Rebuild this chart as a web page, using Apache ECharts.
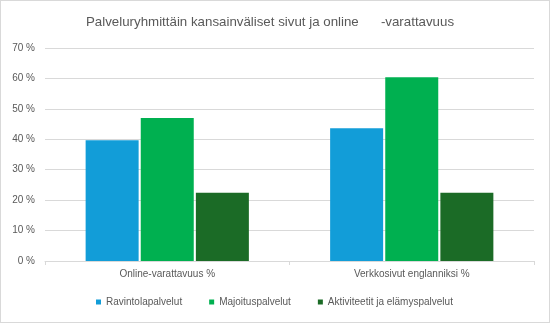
<!DOCTYPE html>
<html>
<head>
<meta charset="utf-8">
<script src="https://cdn.jsdelivr.net/npm/echarts@6/dist/echarts.min.js"></script>
<style>
  html, body { margin: 0; padding: 0; background: #fff; }
  #chart { width: 548px; height: 321px; border: 1px solid #d9d9d9; }
</style>
</head>
<body>
<div id="chart"></div>
<script>
var categories = ["Online-varattavuus %", "Verkkosivut englanniksi %"];
var seriesNames = ["Ravintolapalvelut", "Majoituspalvelut", "Aktiviteetit ja elämyspalvelut"];
var ravintola = [39.7, 43.6];
var majoitus = [47, 60.4];
var aktiviteetit = [22.4, 22.4];
var yTicks = [0, 10, 20, 30, 40, 50, 60, 70];

var colors = ['#129dd8', '#00b050', '#1b6b26'];
var textColor = '#595959';
var font = 'Liberation Sans, Arial, sans-serif';

var myChart = echarts.init(document.getElementById('chart'));
var option = {
  animation: false,
  title: {
    text: 'Palveluryhmittäin kansainväliset sivut ja online      -varattavuus',
    left: 80,
    top: 10,
    textStyle: { color: textColor, fontSize: 13.3, fontWeight: 'normal', fontFamily: font }
  },
  legend: {
    data: seriesNames,
    left: 90,
    top: 291,
    icon: 'rect',
    itemWidth: 5,
    itemHeight: 5,
    itemGap: 27,
    textStyle: { color: textColor, fontSize: 10, fontFamily: font }
  },
  grid: { left: 44, right: 15, top: 47, bottom: 61 },
  xAxis: {
    type: 'category',
    data: categories,
    axisLine: { lineStyle: { color: '#d9d9d9' } },
    axisTick: { show: true, length: 4, lineStyle: { color: '#d9d9d9' } },
    axisLabel: { color: textColor, fontSize: 10, fontFamily: font, margin: 8 }
  },
  yAxis: {
    type: 'value',
    min: yTicks[0],
    max: yTicks[yTicks.length - 1],
    interval: 10,
    axisLine: { show: false },
    axisTick: { show: false },
    splitLine: { lineStyle: { color: '#d9d9d9' } },
    axisLabel: { color: textColor, fontSize: 10, fontFamily: font, margin: 10, formatter: '{value} %' }
  },
  series: [
    { name: seriesNames[0], type: 'bar', data: ravintola, barWidth: 53, barGap: '4%', itemStyle: { color: colors[0] } },
    { name: seriesNames[1], type: 'bar', data: majoitus, barWidth: 53, barGap: '4%', itemStyle: { color: colors[1] } },
    { name: seriesNames[2], type: 'bar', data: aktiviteetit, barWidth: 53, barGap: '4%', itemStyle: { color: colors[2] } }
  ]
};
myChart.setOption(option);
</script>
</body>
</html>
